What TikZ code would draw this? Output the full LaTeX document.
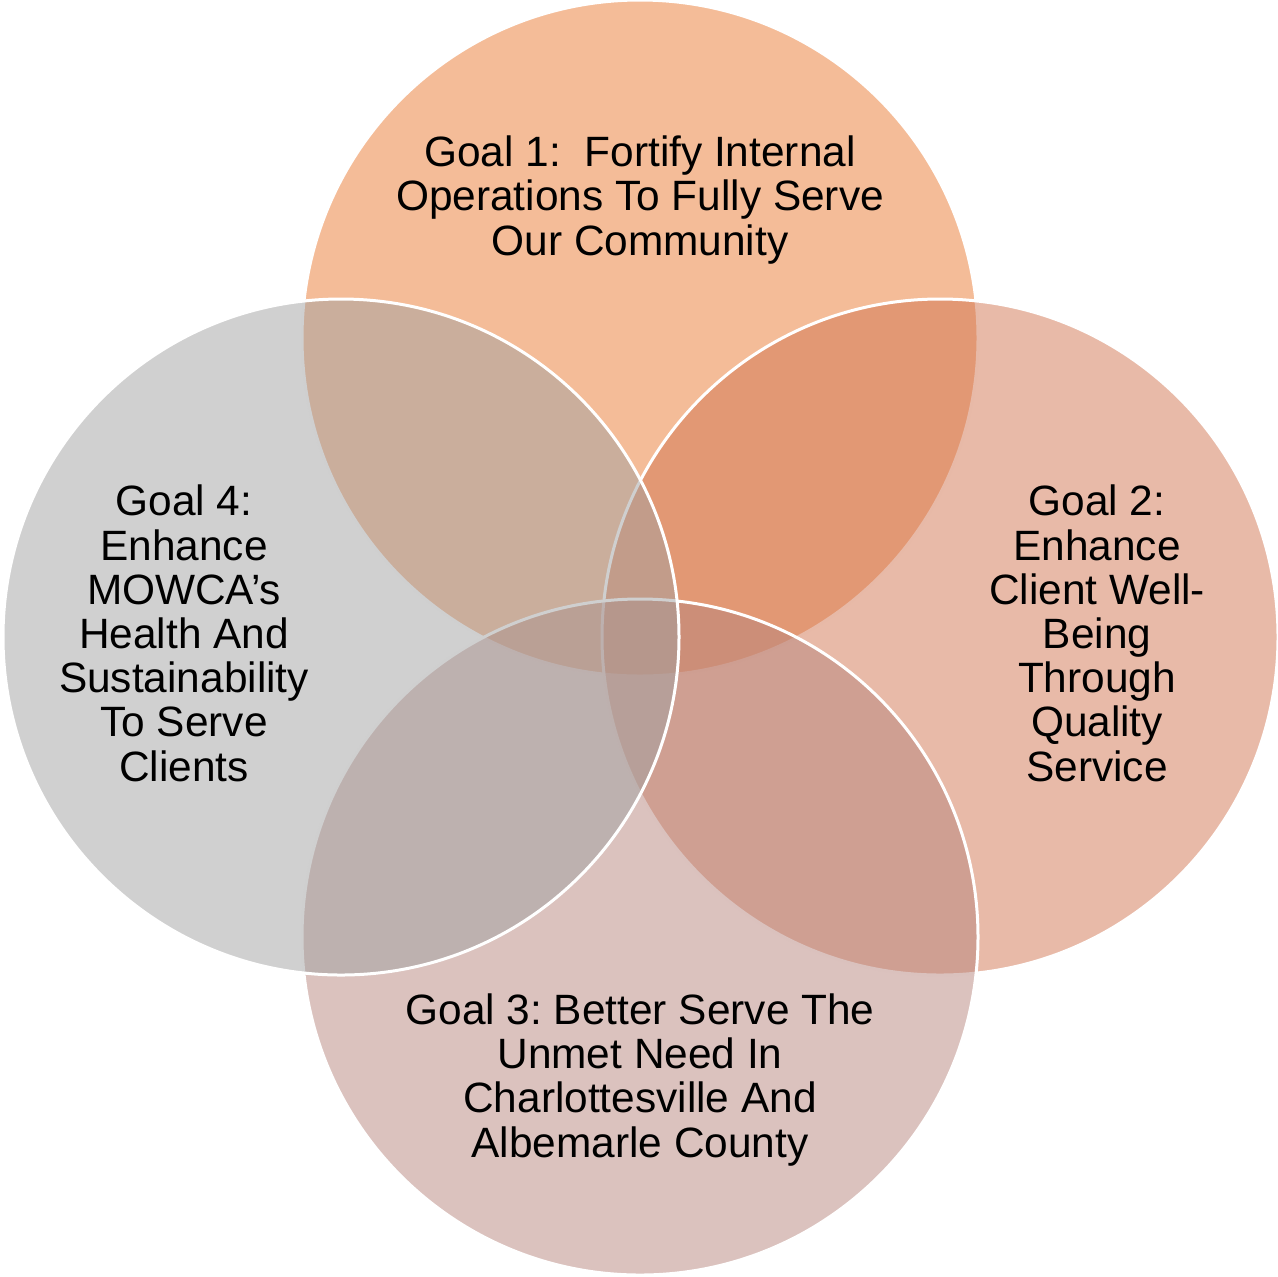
\documentclass[tikz,border=0pt]{standalone}
\usepackage{fontspec}
\setmainfont{Liberation Sans}
\frenchspacing
\definecolor{ctop}{HTML}{E97931}
\definecolor{cright}{HTML}{D17551}
\definecolor{cbottom}{HTML}{B7857D}
\definecolor{cleft}{HTML}{A1A1A1}
\begin{document}
\begin{tikzpicture}[x=0.5pt,y=-0.5pt,
  venn/.style={circle, draw=white, line width=1.5pt, fill opacity=0.5, minimum size=338pt, inner sep=0pt},
  goal/.style={align=center, inner sep=0pt, anchor=base, text=black, font=\fontsize{21.2}{22.1}\selectfont\frenchspacing}]
\useasboundingbox (0,0) rectangle (1278,1276);
\node[venn, fill=ctop] (top) at (640,338) {};
\node[venn, fill=cright] (right) at (940,637) {};
\node[venn, fill=cbottom] (bottom) at (640,937) {};
\node[venn, fill=cleft] (left) at (341,637) {};
\node[goal] (g1) at (640,255) {Goal 1: \ Fortify Internal\\Operations To Fully Serve\\Our Community};
\node[goal] (g2) at (1097,781) {Goal 2:\\Enhance\\Client Well-\\Being\\Through\\Quality\\Service};
\node[goal] (g3) at (640,1157) {Goal 3: Better Serve The\\Unmet Need In\\Charlottesville And\\Albemarle County};
\node[goal] (g4) at (184,781) {Goal 4:\\Enhance\\MOWCA’s\\Health And\\Sustainability\\To Serve\\Clients};
\end{tikzpicture}
\end{document}
